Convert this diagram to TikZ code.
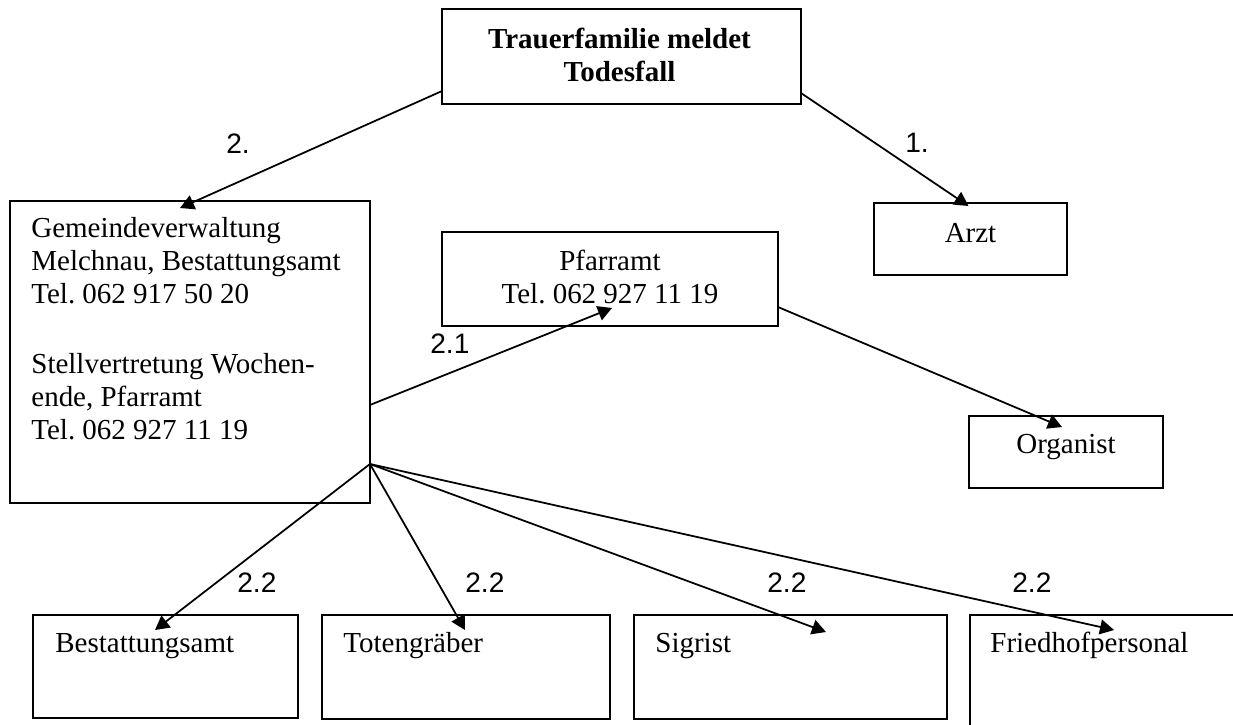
\documentclass[tikz,border=0pt]{standalone}
\usepackage{fontspec}
\setmainfont{Liberation Serif}
\setsansfont{Liberation Sans}
\usetikzlibrary{positioning,arrows.meta,calc}
\frenchspacing

\begin{document}
\begin{tikzpicture}[x=0.02cm, y=-0.02cm,
	kasten/.style={draw, line width=1.1pt, inner sep=0pt, outer sep=0pt},
	schrift/.style={inner sep=0pt, font=\fontsize{16.5}{18.7}\selectfont},
	nummer/.style={inner sep=0pt, anchor=base west, font=\fontsize{16}{18}\sffamily},
	pfeil/.style={line width=1pt, -{Triangle[length=8pt,width=8.5pt]}}]
	\useasboundingbox (0,0) rectangle (1233,724);
	\clip (0,0) rectangle (1233,724);

	\node[kasten, minimum width=7.18cm, minimum height=1.9cm] (tf) at (621.5,56.5) {};
	\node[schrift, anchor=base, align=center, font=\fontsize{16.5}{18.7}\bfseries] (tftext) at ($(tf.north)+(-2,72)$) {Trauerfamilie meldet\\Todesfall};

	\node[kasten, minimum width=7.2cm, minimum height=6.04cm] (gv) at (190,352) {};
	\node[schrift, anchor=base west, align=left] (gvtext) at ($(gv.north west)+(21,238)$) {Gemeindeverwaltung\\Melchnau, Bestattungsamt\\Tel. 062 917 50 20\\[21pt]Stellvertretung Wochen-\\ende, Pfarramt\\Tel. 062 927 11 19};

	\node[kasten, minimum width=3.86cm, minimum height=1.44cm] (arzt) at (970.5,239) {};
	\node[schrift, anchor=base] (arzttext) at ($(arzt.north)+(0,39)$) {Arzt};

	\node[kasten, minimum width=6.72cm, minimum height=1.88cm] (pf) at (610,279) {};
	\node[schrift, anchor=base, align=center] (pftext) at ($(pf.north)+(0,71)$) {Pfarramt\\Tel. 062 927 11 19};

	\node[kasten, minimum width=3.88cm, minimum height=1.44cm] (org) at (1066,452) {};
	\node[schrift, anchor=base] (orgtext) at ($(org.north)+(0,37)$) {Organist};

	\node[kasten, minimum width=5.3cm, minimum height=2.06cm] (ba) at (165.5,666.5) {};
	\node[schrift, anchor=base west] (batext) at ($(ba.north west)+(22,37)$) {Bestattungsamt};

	\node[kasten, minimum width=5.76cm, minimum height=2.08cm] (tg) at (466,667) {};
	\node[schrift, anchor=base west] (tgtext) at ($(tg.north west)+(21,37)$) {Totengräber};

	\node[kasten, minimum width=6.26cm, minimum height=2.08cm] (sg) at (790.5,667) {};
	\node[schrift, anchor=base west] (sgtext) at ($(sg.north west)+(21,37)$) {Sigrist};

	\node[kasten, minimum width=5.8cm, minimum height=2.6cm] (fp) at (1115,680) {};
	\node[schrift, anchor=base west] (fptext) at ($(fp.north west)+(20,37)$) {Friedhofpersonal};

	\draw[pfeil] ($(tf.west)+(0,34.5)$) -- ($(gv.north)+(-10,7)$);
	\draw[pfeil] ($(tf.east)+(0,36.5)$) -- ($(arzt.north)+(-2,3)$);
	\draw[pfeil] ($(gv.east)+(0,53)$) -- ($(pf.south)+(2,-18)$);
	\draw[pfeil] ($(pf.east)+(0,28)$) -- ($(org.north)+(-4,11)$);

	\coordinate (fan) at ($(gv.east)+(0,112)$);
	\draw[pfeil] (fan) -- ($(ba.north)+(-10.5,15)$);
	\draw[pfeil] (fan) -- ($(tg.north)+(-1,15)$);
	\draw[pfeil] (fan) -- ($(sg.north)+(35.5,17)$);
	\draw[pfeil] (fan) -- ($(fp.north west)+(144,15)$);

	\node[nummer] (n2) at (226,153) {2.};
	\node[nummer] (n1) at (905,152) {1.};
	\node[nummer] (n21) at (430,353) {2.1};
	\node[nummer] (n22a) at (237,592) {2.2};
	\node[nummer] (n22b) at (465,592) {2.2};
	\node[nummer] (n22c) at (767,592) {2.2};
	\node[nummer] (n22d) at (1012,592) {2.2};
\end{tikzpicture}
\end{document}
